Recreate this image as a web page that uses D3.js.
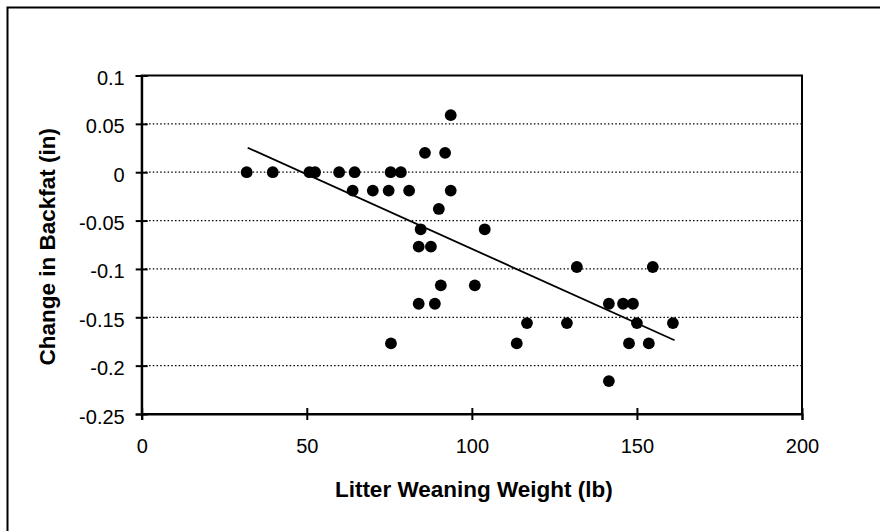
<!DOCTYPE html>
<html>
<head>
<meta charset="utf-8">
<script src="https://cdn.jsdelivr.net/npm/d3@7"></script>
<style>
  body { margin: 0; background: #fff; }
  svg { display: block; font-family: "Liberation Sans", Arial, sans-serif; }
</style>
</head>
<body>
<div id="chart"></div>
<script>
"use strict";

// litter weaning weight (lb) vs change in backfat (in)
const weaningWeight = [
    31.8, 39.7, 50.8, 52.5, 59.8, 64.5, 75.4, 78.5,
    63.9, 70.0, 74.8, 81.0, 93.6,
    85.8, 91.9,
    93.6,
    90.0,
    84.5, 103.9,
    83.9, 87.6,
    131.8, 154.8,
    90.6, 100.9,
    83.9, 88.8, 141.5, 145.8, 148.8,
    116.7, 128.8, 150.0, 160.9,
    75.5, 113.6, 147.6, 153.6,
    141.5
];
const backfatChange = [
    0, 0, 0, 0, 0, 0, 0, 0,
    -0.019, -0.019, -0.019, -0.019, -0.019,
    0.02, 0.02,
    0.059,
    -0.038,
    -0.059, -0.059,
    -0.077, -0.077,
    -0.098, -0.098,
    -0.117, -0.117,
    -0.136, -0.136, -0.136, -0.136, -0.136,
    -0.156, -0.156, -0.156, -0.156,
    -0.177, -0.177, -0.177, -0.177,
    -0.216
];

// linear trend line end points
const trendX = [32.1, 161.4];
const trendY = [0.0253, -0.1738];

const xTicks = [0, 50, 100, 150, 200];
const yTicks = [0.1, 0.05, 0, -0.05, -0.1, -0.15, -0.2, -0.25];

const xTitle = "Litter Weaning Weight (lb)";
const yTitle = "Change in Backfat (in)";

const W = 880, H = 531;
const margin = {top: 75.5, right: 78, bottom: 117, left: 141.7};
const innerW = W - margin.left - margin.right;
const innerH = H - margin.top - margin.bottom;

const svg = d3.select("#chart").append("svg")
    .attr("width", W)
    .attr("height", H);

// outer frame (runs off the right and bottom edge)
svg.append("rect")
    .attr("x", 7.5).attr("y", 7.5)
    .attr("width", W + 20).attr("height", H + 20)
    .attr("fill", "none")
    .attr("stroke", "#000")
    .attr("stroke-width", 2);

const g = svg.append("g")
    .attr("transform", "translate(" + margin.left + "," + margin.top + ")");

const x = d3.scaleLinear().domain([0, 200]).range([0, innerW]);
const y = d3.scaleLinear().domain([-0.25, 0.1]).range([innerH, 0]);

// dotted gridlines
g.append("g")
    .selectAll("line")
    .data(yTicks.filter(d => d > -0.25 && d < 0.1))
    .join("line")
      .attr("x1", 0).attr("x2", innerW)
      .attr("y1", d => y(d)).attr("y2", d => y(d))
      .attr("stroke", "#000")
      .attr("stroke-width", 1.2)
      .attr("stroke-dasharray", "1.5,2.2");

// plot frame
g.append("rect")
    .attr("width", innerW).attr("height", innerH)
    .attr("fill", "none")
    .attr("stroke", "#000")
    .attr("stroke-width", 2);

const fmt = d => String(+d.toFixed(2));

const xAxis = g.append("g")
    .attr("transform", "translate(0," + innerH + ")")
    .call(d3.axisBottom(x).tickValues(xTicks).tickFormat(fmt).tickSize(6).tickPadding(19));
const yAxis = g.append("g")
    .call(d3.axisLeft(y).tickValues(yTicks).tickFormat(fmt).tickSize(6).tickPadding(11));

[xAxis, yAxis].forEach(ax => {
    ax.select(".domain").attr("stroke", "#000").attr("stroke-width", 2);
    ax.selectAll(".tick line").attr("stroke", "#000").attr("stroke-width", 2);
    ax.selectAll(".tick text")
        .attr("fill", "#000")
        .attr("font-size", 20)
        .attr("font-family", "'Liberation Sans', Arial, sans-serif");
});
// ticks cross the axis
xAxis.selectAll(".tick line").attr("y1", -6);
yAxis.selectAll(".tick line").attr("x1", 6);
yAxis.selectAll(".tick text").attr("dy", "0.45em");

// trend line
const line = d3.line().x(d => x(d[0])).y(d => y(d[1]));
g.append("path")
    .attr("d", line(d3.zip(trendX, trendY)))
    .attr("fill", "none")
    .attr("stroke", "#000")
    .attr("stroke-width", 1.8);

// data points
g.append("g")
    .selectAll("circle")
    .data(d3.zip(weaningWeight, backfatChange))
    .join("circle")
      .attr("cx", d => x(d[0]))
      .attr("cy", d => y(d[1]))
      .attr("r", 5.9)
      .attr("fill", "#000");

// axis titles
svg.append("text")
    .attr("x", margin.left + innerW / 2 + 2)
    .attr("y", 497)
    .attr("text-anchor", "middle")
    .attr("font-size", 22.5)
    .attr("font-weight", "bold")
    .text(xTitle);

svg.append("text")
    .attr("transform", "translate(55," + (margin.top + innerH / 2 + 2) + ") rotate(-90)")
    .attr("text-anchor", "middle")
    .attr("font-size", 22.5)
    .attr("font-weight", "bold")
    .text(yTitle);
</script>
</body>
</html>
